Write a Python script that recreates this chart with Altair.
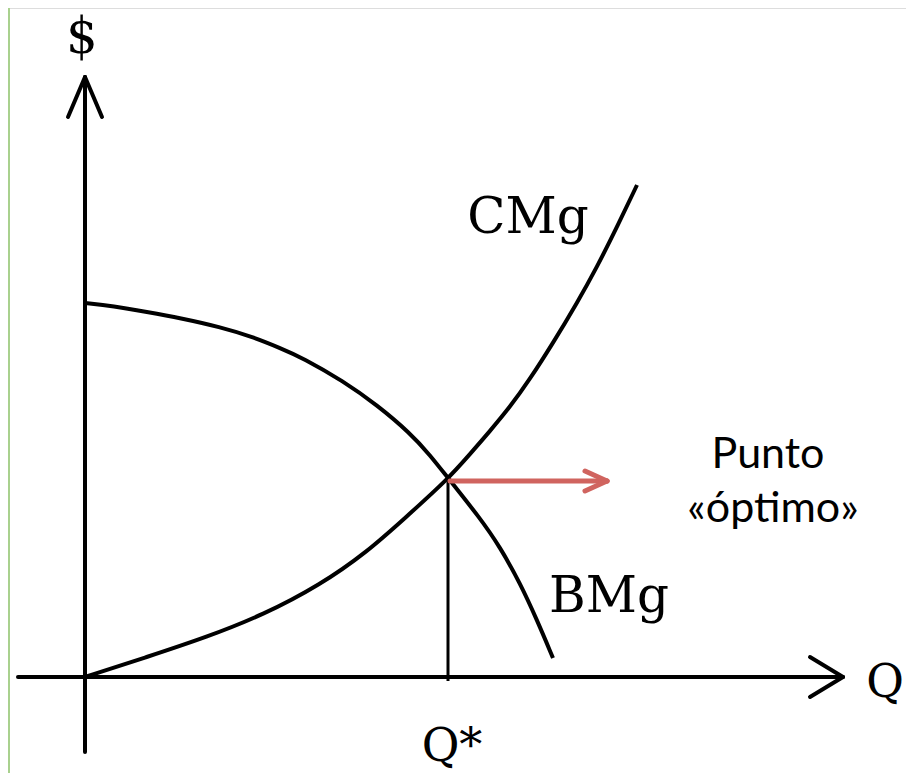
import altair as alt
import pandas as pd

# Marginal cost curve (CMg): quantity, $ value
cmg_q = [0, 62, 122, 178, 235, 282, 320, 363, 385, 405, 425, 445, 468, 492, 512, 532, 552]
cmg_v = [0, 20, 40, 62, 92, 125, 159, 198, 223, 246, 270, 298, 334, 374, 410, 450, 492]

# Marginal benefit curve (BMg)
bmg_q = [0, 28, 62, 95, 135, 168, 195, 218, 258, 292, 325, 345, 363, 395, 415, 435, 452, 468]
bmg_v = [374, 371, 365, 359, 350, 340, 329, 319, 296, 272, 244, 222, 199, 159, 130, 94, 57, 19]

q_star = 363
v_star = 198

# Axis segments (x, y, x2, y2)
axis_x1 = [0, -17, 17, -67, 725, 725]
axis_y1 = [-75, 560, 560, 0, 20, -20]
axis_x2 = [0, 0, 0, 758, 758, 758]
axis_y2 = [600, 600, 600, 0, 0, 0]

# Red "optimum" arrow segments
arr_x1 = [365, 500, 500]
arr_y1 = [196, 206, 186]
arr_x2 = [522, 522, 522]
arr_y2 = [196, 196, 196]

# Serif labels
serif_text = ["$", "CMg", "BMg"]
serif_x = [-3, 443, 524]
serif_y = [624, 444, 65]
small_label = ["Q", "Q*"]
small_x = [800, 367]
small_y = [-20, -84]

# Sans labels
sans_text = ["Punto", "«óptimo»"]
sans_x = [683, 688]
sans_y = [209, 155]

X_DOM = [-77, 821]
Y_DOM = [-96, 669]

xs = alt.Scale(domain=X_DOM, nice=False, zero=False)
ys = alt.Scale(domain=Y_DOM, nice=False, zero=False)

curves = pd.DataFrame({
    "q": cmg_q + bmg_q,
    "v": cmg_v + bmg_v,
    "curve": ["CMg"] * len(cmg_q) + ["BMg"] * len(bmg_q),
    "order": list(range(len(cmg_q))) + list(range(len(bmg_q))),
})

axes_df = pd.DataFrame({"x": axis_x1, "y": axis_y1, "x2": axis_x2, "y2": axis_y2})
arrow_df = pd.DataFrame({"x": arr_x1, "y": arr_y1, "x2": arr_x2, "y2": arr_y2})
drop_df = pd.DataFrame({"x": [q_star], "y": [v_star], "x2": [q_star], "y2": [-4]})
green_df = pd.DataFrame({"x": [-76], "y": [Y_DOM[0]], "x2": [-76], "y2": [Y_DOM[1]]})
serif_df = pd.DataFrame({"t": serif_text, "x": serif_x, "y": serif_y})
q_df = pd.DataFrame({"t": small_label, "x": small_x, "y": small_y})
sans_df = pd.DataFrame({"t": sans_text, "x": sans_x, "y": sans_y})


def seg_enc():
    return dict(
        x=alt.X("x:Q", scale=xs, axis=None),
        y=alt.Y("y:Q", scale=ys, axis=None),
        x2="x2:Q",
        y2="y2:Q",
    )


def txt_enc():
    return dict(
        x=alt.X("x:Q", scale=xs, axis=None),
        y=alt.Y("y:Q", scale=ys, axis=None),
        text="t:N",
    )


green = alt.Chart(green_df).mark_rule(color="#a9d18e", strokeWidth=2).encode(**seg_enc())

axes = alt.Chart(axes_df).mark_rule(
    color="black", strokeWidth=4, strokeCap="round"
).encode(**seg_enc())

drop = alt.Chart(drop_df).mark_rule(color="black", strokeWidth=3).encode(**seg_enc())

lines = alt.Chart(curves).mark_line(
    color="black", strokeWidth=4, interpolate="basis"
).encode(
    x=alt.X("q:Q", scale=xs, axis=None),
    y=alt.Y("v:Q", scale=ys, axis=None),
    detail="curve:N",
    order="order:Q",
)

arrow = alt.Chart(arrow_df).mark_rule(
    color="#d0645f", strokeWidth=5, strokeCap="round"
).encode(**seg_enc())

serif = alt.Chart(serif_df).mark_text(
    font="DejaVu Serif", fontSize=50, color="black", align="center", baseline="alphabetic"
).encode(**txt_enc())

qtext = alt.Chart(q_df).mark_text(
    font="DejaVu Serif", fontSize=46, color="black", align="center", baseline="alphabetic"
).encode(**txt_enc())

sans = alt.Chart(sans_df).mark_text(
    font="Lato", fontSize=43, color="black", align="center", baseline="alphabetic"
).encode(**txt_enc())

chart = alt.layer(green, lines, drop, axes, arrow, serif, qtext, sans).properties(
    width=898,
    height=765,
    padding=0,
    autosize=alt.AutoSizeParams(type="none"),
).configure_view(stroke=None).configure(background="white")

chart.save("out.html", embed_options={"renderer": "svg", "actions": False})
